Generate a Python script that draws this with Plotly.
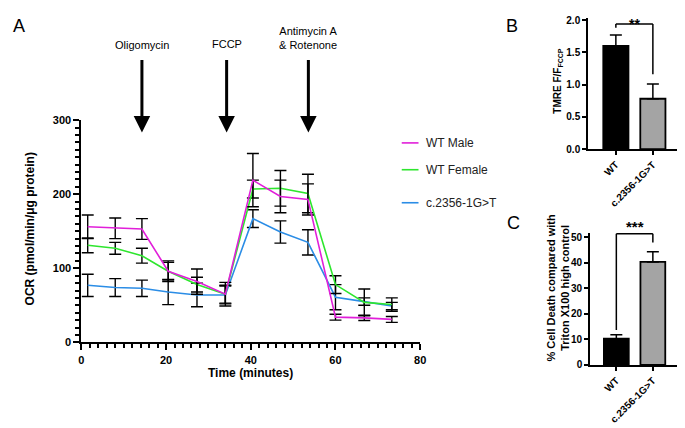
import plotly.graph_objects as go

# ---------------- data ----------------
time_min = [1.5, 8, 14.3, 20.5, 27.3, 34, 40.5, 47, 53.5, 60, 66.8, 73.3]
series_names = ["WT Male", "WT Female", "c.2356-1G>T"]
wt_male = [156, 154, 153, 96, 82, 65, 219, 197, 193, 34, 33, 31]
wt_male_err = [16, 14, 14, 14, 17, 16, 36, 22, 21, 4, 3.5, 4]
wt_female = [131, 127, 117, 96, 78, 65, 207, 208, 201, 78, 54, 51]
wt_female_err = [10, 8, 10, 12, 10, 12, 12, 24, 26, 12, 18, 9]
mutant = [77, 74, 73, 68, 64, 64, 167, 149, 135, 61, 55, 49]
mutant_err = [15, 12, 11, 17, 16, 12, 12, 15, 17, 17, 5, 5]

injections = ["Oligomycin", "FCCP", "Antimycin A<br>& Rotenone"]
injection_times = [14.3, 34.3, 53.6]

bar_groups = ["WT", "c.2356-1G>T"]
tmre_mean = [1.6, 0.78]
tmre_err = [0.17, 0.23]
death_mean = [10.3, 40.3]
death_err = [1.5, 4.0]

colors = ["#e11fd9", "#2ee62e", "#2b8de6"]
bar_colors = ["#000000", "#a4a4a4"]

# page body has an 8px margin; map screen pixels to figure fractions
OFF = 8
W, H = 685 - OFF, 428 - OFF
def fx(p):
    return (p - OFF) / W
def fy(p):
    return 1 - (p - OFF) / H

FONT = "Liberation Sans, Arial, sans-serif"

fig = go.Figure()

series = [wt_male, wt_female, mutant]
errs = [wt_male_err, wt_female_err, mutant_err]
for i in [2, 1, 0]:
    fig.add_trace(go.Scatter(
        x=time_min, y=series[i], mode="lines", name=series_names[i],
        line=dict(color=colors[i], width=1.6),
        error_y=dict(type="data", array=errs[i], color="black",
                     thickness=1.4, width=6),
        xaxis="x", yaxis="y", showlegend=False))

fig.add_trace(go.Bar(
    x=[0, 1], y=tmre_mean, width=0.68,
    marker=dict(color=bar_colors, line=dict(color="black", width=1.8)),
    error_y=dict(type="data", array=tmre_err, arrayminus=[0, 0],
                 symmetric=False, color="black", thickness=1.5, width=6),
    xaxis="x2", yaxis="y2", showlegend=False))

fig.add_trace(go.Bar(
    x=[0, 1], y=death_mean, width=0.68,
    marker=dict(color=bar_colors, line=dict(color="black", width=1.8)),
    error_y=dict(type="data", array=death_err, arrayminus=[0, 0],
                 symmetric=False, color="black", thickness=1.5, width=6),
    xaxis="x3", yaxis="y3", showlegend=False))

axis_common = dict(showgrid=False, zeroline=False, showline=True,
                   linecolor="black", linewidth=2, ticks="outside",
                   tickcolor="black", tickwidth=2,
                   tickfont=dict(family=FONT, size=11, color="black", weight="bold"))
small_tf = dict(family=FONT, size=10, color="black", weight="bold")

fig.update_layout(
    width=W, height=H, margin=dict(l=0, r=0, t=0, b=0),
    paper_bgcolor="white", plot_bgcolor="white",
    font=dict(family=FONT, color="black"),
    xaxis=dict(axis_common, domain=[fx(79.3), fx(422.7)], range=[0, 80],
               dtick=20, ticklen=6, anchor="y",
               minor=dict(dtick=2, ticks="outside", ticklen=4,
                          tickcolor="black", tickwidth=2)),
    yaxis=dict(axis_common, domain=[fy(346), fy(117.3)], range=[0, 300],
               dtick=100, ticklen=6, anchor="x",
               minor=dict(dtick=10, ticks="outside", ticklen=4,
                          tickcolor="black", tickwidth=2)),
    xaxis2=dict(axis_common, domain=[fx(593), 1.0], range=[-0.747, 1.706],
                tickvals=[0, 1], ticktext=bar_groups, tickangle=-45,
                ticklen=4, anchor="y2", tickfont=small_tf),
    yaxis2=dict(axis_common, domain=[fy(147), fy(147 - 2.03 * 66.35)],
                range=[0, 2.03], tickvals=[0, 0.5, 1.0, 1.5, 2.0],
                tickformat=".1f", ticklen=4, anchor="x2", tickfont=small_tf),
    xaxis3=dict(axis_common, domain=[fx(595), 1.0], range=[-0.716, 1.716],
                tickvals=[0, 1], ticktext=bar_groups, tickangle=-45,
                ticklen=4, anchor="y3", tickfont=small_tf),
    yaxis3=dict(axis_common, domain=[fy(369.3), fy(369.3 - 51.8 * 2.632)],
                range=[0, 51.8], tickvals=[0, 10, 20, 30, 40, 50],
                ticklen=4, anchor="x3", tickfont=small_tf),
)

ann = []
def text_ann(text, px_, py_, size, angle=0, xanchor="center", yanchor="middle",
             color="black", xref="paper", xval=None):
    return dict(text=text, x=(fx(px_) if xval is None else xval), y=fy(py_),
                xref=xref, yref="paper", showarrow=False, textangle=angle,
                xanchor=xanchor, yanchor=yanchor,
                font=dict(size=size, family=FONT, color=color))

ann.append(text_ann("<b>Time (minutes)</b>", 251, 377.7, 12))
ann.append(text_ann("<b>OCR (pmol/min/μg protein)</b>", 27, 229, 12, angle=-90))
ann.append(text_ann("<b>TMRE F/F<sub>FCCP</sub></b>", 562, 77, 10, angle=-90))
ann.append(text_ann("<b>% Cell Death compared with<br>Triton X100 high control</b>",
                    562, 290, 11, angle=-90))

ann.append(text_ann("A", 8, 8, 18, xanchor="left", yanchor="top"))
ann.append(text_ann("B", 516, 8, 18, yanchor="top"))
ann.append(text_ann("C", 517, 223, 18))

label_y = [40, 39, 32.5]
for name, t, ly in zip(injections, injection_times, label_y):
    ann.append(dict(text="", x=t, y=fy(130), xref="x", yref="paper",
                    showarrow=True, ax=0, ay=-74, arrowhead=2, arrowsize=1.1,
                    arrowwidth=3, arrowcolor="black"))
    ann.append(text_ann(name, 0, ly, 11, xref="x", xval=t))

leg_y = [140.7, 168.3, 202.3]
shapes = []
for name, c, ly in zip(series_names, colors, leg_y):
    shapes.append(dict(type="line", xref="paper", yref="paper",
                       x0=fx(404), x1=fx(421), y0=fy(ly), y1=fy(ly),
                       line=dict(color=c, width=1.6)))
    ann.append(text_ann(name, 427, ly, 12, xanchor="left", color="#222"))

def bracket(xr, yr, y_top, y_left, y_right):
    lw = dict(color="black", width=1.5)
    return [
        dict(type="line", xref=xr, yref=yr, x0=0, x1=1, y0=y_top, y1=y_top, line=lw),
        dict(type="line", xref=xr, yref=yr, x0=0, x1=0, y0=y_top, y1=y_left, line=lw),
        dict(type="line", xref=xr, yref=yr, x0=1, x1=1, y0=y_top, y1=y_right, line=lw),
    ]
shapes += bracket("x2", "y2", 1.94, 1.88, 1.16)
shapes += bracket("x3", "y3", 51.3, 13.7, 47.9)
ann.append(text_ann("<b>**</b>", 0, 8, 14, yanchor="top", xref="x2", xval=0.5))
ann.append(text_ann("<b>***</b>", 0, 227, 15, xref="x3", xval=0.5))

fig.update_layout(annotations=ann, shapes=shapes)
fig.write_html("out.html")
